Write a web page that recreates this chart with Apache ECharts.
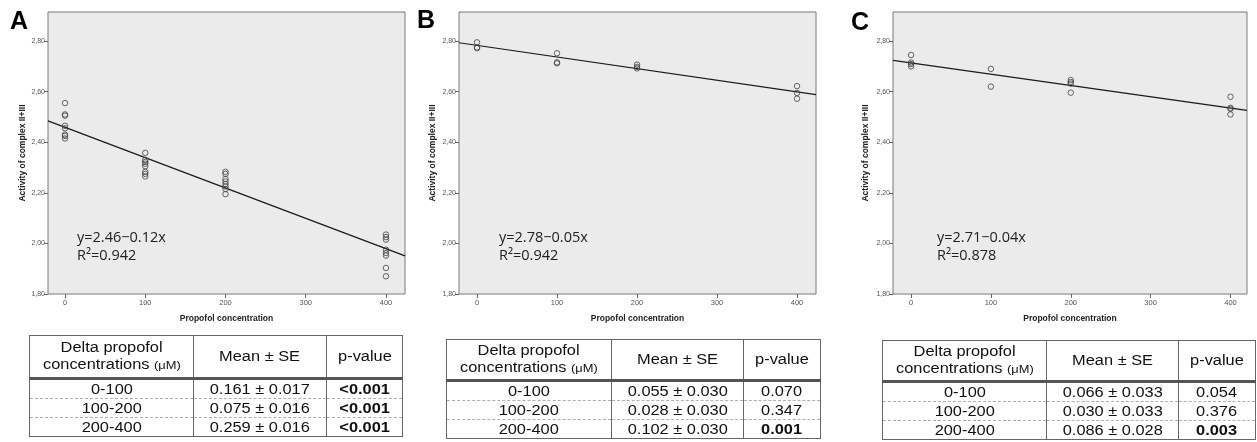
<!DOCTYPE html>
<html>
<head>
<meta charset="utf-8">
<script src="https://cdn.jsdelivr.net/npm/echarts@6/dist/echarts.min.js"></script>
<style>
  html, body { margin: 0; padding: 0; background: #fff; overflow: hidden; }
  #chart { position: absolute; left: 0; top: 0; width: 1257px; height: 442px; }
  .tbl {
    position: absolute;
    border-collapse: collapse;
    table-layout: fixed;
    font-family: "Liberation Sans", Arial, sans-serif;
    font-size: 14px;
    color: #111;
    border: 1.5px solid #666;
  }
  .tbl td {
    padding: 0;
    text-align: center;
    border-left: 1.5px solid #666;
    border-right: 1.5px solid #666;
    line-height: 16px;
    height: 18px;
    white-space: nowrap;
  }
  .tbl tr.head td { border-bottom: 3px solid #555; line-height: 17px; }
  .tbl tr.body + tr.body td { border-top: 1px dashed #b0b0b0; }
  .tbl span { display: inline-block; transform: scaleX(1.17); }
  .tbl .unit { font-size: 11px; transform: none; }
  .tbl b { font-weight: bold; }
</style>
</head>
<body>
<div id="chart"></div>
<div id="tables"></div>
<script>
// axis ticks
const xTicks = [0, 100, 200, 300, 400]
const yTicks = [1.8, 2.0, 2.2, 2.4, 2.6, 2.8]
const doseLevels = [0, 100, 200, 400]
const panelNames = ['A', 'B', 'C']

// activity of complex II+III, one list per dose level
const activityA = [
  [2.555, 2.51, 2.505, 2.465, 2.455, 2.43, 2.425, 2.415],
  [2.358, 2.33, 2.322, 2.315, 2.305, 2.283, 2.275, 2.265],
  [2.283, 2.275, 2.255, 2.245, 2.235, 2.225, 2.215, 2.195],
  [2.035, 2.025, 2.015, 1.975, 1.962, 1.952, 1.903, 1.87],
]
const activityB = [
  [2.795, 2.775, 2.772],
  [2.752, 2.716, 2.712],
  [2.707, 2.698, 2.692],
  [2.622, 2.595, 2.572],
]
const activityC = [
  [2.745, 2.715, 2.709, 2.7],
  [2.69, 2.62],
  [2.646, 2.638, 2.632, 2.596],
  [2.58, 2.536, 2.532, 2.51],
]

// fitted lines (per unit of concentration)
const fitIntercept = [2.459, 2.783, 2.714]
const fitSlope = [-0.0012, -0.00046, -0.000446]
const fitLabel = ['y=2.46\u22120.12x', 'y=2.78\u22120.05x', 'y=2.71\u22120.04x']
const r2Label = ['R\u00b2=0.942', 'R\u00b2=0.942', 'R\u00b2=0.878']

// tables
const tableHead = ['Delta propofol', 'concentrations', 'Mean \u00b1 SE', 'p-value']
const deltaRanges = ['0-100', '100-200', '200-400']
const meanSeA = ['0.161 \u00b1 0.017', '0.075 \u00b1 0.016', '0.259 \u00b1 0.016']
const meanSeB = ['0.055 \u00b1 0.030', '0.028 \u00b1 0.030', '0.102 \u00b1 0.030']
const meanSeC = ['0.066 \u00b1 0.033', '0.030 \u00b1 0.033', '0.086 \u00b1 0.028']
const pValueA = ['<0.001', '<0.001', '<0.001']
const pValueB = ['0.070', '0.347', '0.001']
const pValueC = ['0.054', '0.376', '0.003']
const pBoldA = [true, true, true]
const pBoldB = [false, false, true]
const pBoldC = [false, false, true]

const activity = [activityA, activityB, activityC]
const meanSe = [meanSeA, meanSeB, meanSeC]
const pValue = [pValueA, pValueB, pValueC]
const pBold = [pBoldA, pBoldB, pBoldC]

// layout
const gridLeft = [48, 459, 893]
const gridWidth = [357, 357, 354]
const gridTop = 12
const gridHeight = 282
const xMin = [-21.2, -22.5, -22.6]
const xMax = [423.7, 423.7, 420.7]
const yMin = 1.8
const yMax = 2.915
const yNameGap = [16, 22, 23]
const letterPos = [[10, 10], [417, 9], [851, 11]]
const eqLeft = [77, 499, 937]
const tablePos = [
  { left: 29, top: 335, head: 41, cols: [164, 133, 76] },
  { left: 446, top: 339, head: 39, cols: [165, 132, 77] },
  { left: 882, top: 340, head: 39, cols: [164, 132, 77] },
]

const labelFont = '"Liberation Sans", Arial, sans-serif'

const chart = echarts.init(document.getElementById('chart'))
const grids = []
const xAxes = []
const yAxes = []
const series = []
const graphics = []

for (let i = 0; i < 3; i++) {
  grids.push({
    left: gridLeft[i],
    top: gridTop,
    width: gridWidth[i],
    height: gridHeight,
    show: true,
    backgroundColor: '#ebebeb',
    borderColor: '#7a7a7a',
    borderWidth: 1,
  })
  xAxes.push({
    gridIndex: i,
    type: 'value',
    min: xMin[i],
    max: xMax[i],
    name: 'Propofol concentration',
    nameLocation: 'middle',
    nameGap: 20,
    nameTextStyle: { fontFamily: labelFont, fontWeight: 'bold', fontSize: 8.5, color: '#222' },
    axisLine: { show: false, onZero: false },
    axisTick: { show: true, customValues: xTicks, length: 4, lineStyle: { color: '#666' } },
    axisLabel: { customValues: xTicks, fontFamily: labelFont, fontSize: 7.5, color: '#555', margin: 5 },
    splitLine: { show: false },
  })
  yAxes.push({
    gridIndex: i,
    type: 'value',
    min: yMin,
    max: yMax,
    name: 'Activity of complex II+III',
    nameLocation: 'middle',
    nameRotate: 90,
    nameGap: yNameGap[i],
    nameTextStyle: { fontFamily: labelFont, fontWeight: 'bold', fontSize: 8.5, color: '#222' },
    axisLine: { show: false, onZero: false },
    axisTick: { show: true, customValues: yTicks, length: 4, lineStyle: { color: '#666' } },
    axisLabel: {
      customValues: yTicks,
      fontFamily: labelFont,
      fontSize: 7,
      color: '#555',
      margin: 3,
      formatter: (v) => v.toFixed(2).replace('.', ','),
    },
    splitLine: { show: false },
  })

  const pts = []
  activity[i].forEach((vals, k) => {
    vals.forEach((v) => pts.push([doseLevels[k], v]))
  })
  series.push({
    type: 'scatter',
    xAxisIndex: i,
    yAxisIndex: i,
    data: pts,
    symbol: 'circle',
    symbolSize: 5.5,
    itemStyle: { color: 'rgba(0,0,0,0)', borderColor: '#444', borderWidth: 1 },
    silent: true,
  })
  series.push({
    type: 'line',
    xAxisIndex: i,
    yAxisIndex: i,
    data: [
      [xMin[i], fitIntercept[i] + fitSlope[i] * xMin[i]],
      [xMax[i], fitIntercept[i] + fitSlope[i] * xMax[i]],
    ],
    showSymbol: false,
    symbol: 'none',
    lineStyle: { color: '#1a1a1a', width: 1.2 },
    silent: true,
    z: 1,
  })

  graphics.push({
    type: 'text',
    left: letterPos[i][0],
    top: letterPos[i][1],
    style: { text: panelNames[i], fontFamily: labelFont, fontWeight: 'bold', fontSize: 25, fill: '#000' },
  })
  graphics.push({
    type: 'text',
    left: eqLeft[i],
    top: 229,
    style: {
      text: fitLabel[i] + '\n' + r2Label[i],
      fontFamily: '"Open Sans", "Noto Sans", sans-serif',
      fontSize: 14.5,
      lineHeight: 18,
      fill: '#222',
    },
  })
}

chart.setOption({
  animation: false,
  grid: grids,
  xAxis: xAxes,
  yAxis: yAxes,
  series: series,
  graphic: graphics,
})

// tables under each panel
const wrap = document.getElementById('tables')
for (let i = 0; i < 3; i++) {
  const t = tablePos[i]
  const total = t.cols.reduce((a, b) => a + b, 0)
  let html = '<table class="tbl" style="left:' + t.left + 'px;top:' + t.top + 'px;width:' + total + 'px">'
  html += '<colgroup>' + t.cols.map((w) => '<col style="width:' + w + 'px">').join('') + '</colgroup>'
  html += '<tr class="head" style="height:' + t.head + 'px"><td style="height:' + t.head + 'px"><span>' + tableHead[0] +
    '</span><br><span>' + tableHead[1] + ' <span class="unit">(\u03bcM)</span></span></td><td><span>' + tableHead[2] +
    '</span></td><td><span>' + tableHead[3] + '</span></td></tr>'
  for (let r = 0; r < deltaRanges.length; r++) {
    const p = pBold[i][r] ? '<b>' + pValue[i][r].replace('<', '&lt;') + '</b>' : pValue[i][r]
    html += '<tr class="body"><td><span>' + deltaRanges[r] + '</span></td><td><span>' + meanSe[i][r] +
      '</span></td><td><span>' + p + '</span></td></tr>'
  }
  html += '</table>'
  wrap.insertAdjacentHTML('beforeend', html)
}
</script>
</body>
</html>
